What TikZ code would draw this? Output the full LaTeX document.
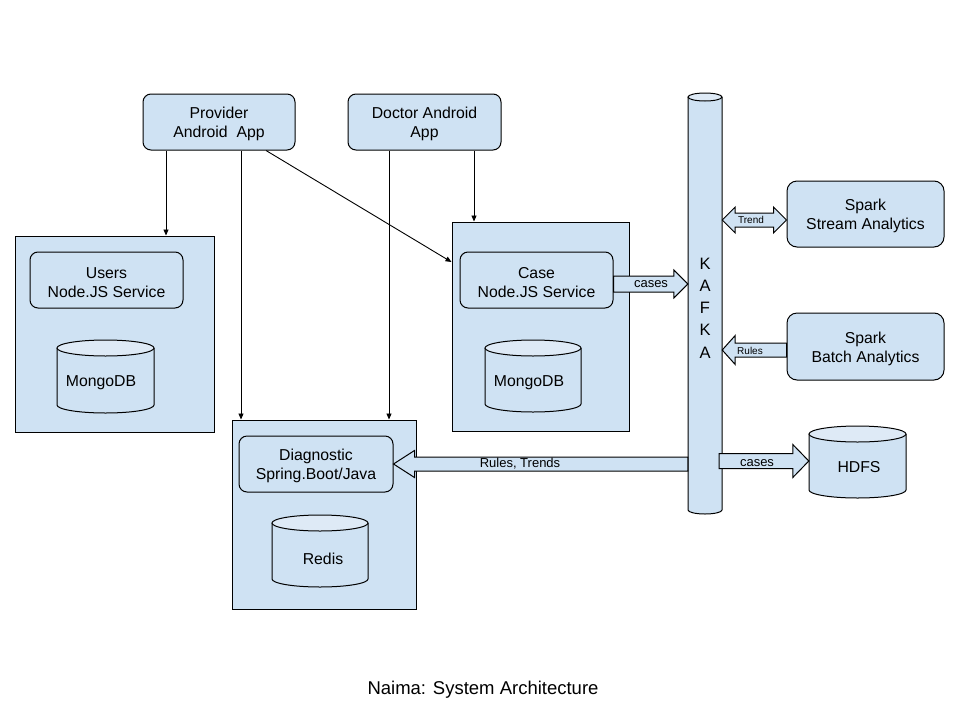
\documentclass[tikz,border=0pt]{standalone}
\usepackage{fontspec}
\setmainfont{Liberation Sans}
\usetikzlibrary{arrows.meta,calc}
\definecolor{boxfill}{HTML}{CFE2F3}
\definecolor{topfill}{HTML}{DEEAF6}
\newcommand\mainsize{\fontsize{15.8}{19}\selectfont}
\newcommand\topstrut{\rule{0pt}{16pt}}
\newcommand\cylshape[6]{% #1 name, #2 x1, #3 x2, #4 top extreme, #5 bottom extreme, #6 ry
  \fill[boxfill] (#2,{#4+#6}) -- (#2,{#5-#6}) arc[start angle=180,end angle=0,x radius={(#3-#2)/2},y radius=#6] -- (#3,{#4+#6}) -- cycle;
  \draw[line width=1pt] (#2,{#4+#6}) -- (#2,{#5-#6}) arc[start angle=180,end angle=0,x radius={(#3-#2)/2},y radius=#6] -- (#3,{#4+#6});
  \draw[line width=1pt,fill=topfill] ({(#2+#3)/2},{#4+#6}) ellipse[x radius={(#3-#2)/2},y radius=#6];
  \node[inner sep=0pt,minimum width={(#3-#2)*1pt},minimum height={(#5-#4)*1pt}] (#1) at ({(#2+#3)/2},{(#4+#5)/2}) {};
}
% right-pointing block arrow: #1 tail, #2 tip, #3 shaft half, #4 head half, #5 head length
\newcommand\blkR[5]{%
  \draw[blk] let \p1=#1, \p2=#2 in (\x1,{\y2+#3pt}) -- ({\x2-#5pt},{\y2+#3pt}) -- ({\x2-#5pt},{\y2+#4pt}) -- (\x2,\y2) -- ({\x2-#5pt},{\y2-#4pt}) -- ({\x2-#5pt},{\y2-#3pt}) -- (\x1,{\y2-#3pt}) -- cycle;}
% left-pointing block arrow: #1 tail (right), #2 tip (left)
\newcommand\blkL[5]{%
  \draw[blk] let \p1=#1, \p2=#2 in (\x1,{\y2+#3pt}) -- ({\x2+#5pt},{\y2+#3pt}) -- ({\x2+#5pt},{\y2+#4pt}) -- (\x2,\y2) -- ({\x2+#5pt},{\y2-#4pt}) -- ({\x2+#5pt},{\y2-#3pt}) -- (\x1,{\y2-#3pt}) -- cycle;}
% double block arrow: #1 left tip, #2 right tip
\newcommand\blkLR[5]{%
  \draw[blk] let \p1=#1, \p2=#2 in (\x1,\y1) -- ({\x1+#5pt},{\y1+#4pt}) -- ({\x1+#5pt},{\y1+#3pt}) -- ({\x2-#5pt},{\y1+#3pt}) -- ({\x2-#5pt},{\y1+#4pt}) -- (\x2,\y1) -- ({\x2-#5pt},{\y1-#4pt}) -- ({\x2-#5pt},{\y1-#3pt}) -- ({\x1+#5pt},{\y1-#3pt}) -- ({\x1+#5pt},{\y1-#4pt}) -- cycle;}
\tikzset{
  rbox/.style={draw,line width=1pt,fill=boxfill,rounded corners=8pt,align=center,font=\mainsize,inner sep=0pt},
  sbox/.style={draw,line width=1pt,fill=boxfill,align=center,inner sep=0pt},
  blk/.style={draw,line width=1pt,fill=boxfill,line join=miter},
  thinarrow/.style={draw,line width=0.9pt,-{Triangle[length=6pt,width=5pt]}},
  txt/.style={font=\mainsize,align=center,inner sep=0pt},
  small/.style={font=\fontsize{10}{12}\selectfont,inner sep=0pt},
  mid/.style={font=\fontsize{13}{15}\selectfont,inner sep=0pt}
}
\begin{document}
\begin{tikzpicture}[x=1pt,y=-1pt]
\useasboundingbox (0,0) rectangle (960,720);
% outer boxes
\node[sbox,minimum width=199pt,minimum height=196pt] (usersbox) at (114.5,334) {};
\node[sbox,minimum width=177pt,minimum height=209pt] (casebox) at (540.5,326.5) {};
\node[sbox,minimum width=184pt,minimum height=189pt] (diagbox) at (324,514.5) {};
% top apps
\node[rbox,minimum width=152pt,minimum height=56pt] (prov) at (219,122) {\topstrut Provider\\Android\ \ App};
\node[rbox,minimum width=153pt,minimum height=56pt] (doc) at (424.5,122) {\topstrut Doctor Android\\App};
% services
\node[rbox,minimum width=153pt,minimum height=56pt] (usersvc) at (106.5,280) {\topstrut Users\\Node.JS Service};
\node[rbox,minimum width=153pt,minimum height=56pt] (casesvc) at (536.5,280) {\topstrut Case\\Node.JS Service};
\node[rbox,minimum width=154pt,minimum height=56pt] (diagsvc) at (316,464) {\topstrut Diagnostic\\Spring.Boot/Java};
\node[rbox,rounded corners=10pt,minimum width=157pt,minimum height=66pt] (stream) at (865.5,214) {\topstrut Spark\\Stream Analytics};
\node[rbox,rounded corners=10pt,minimum width=157pt,minimum height=67pt] (batch) at (865.5,346.5) {\topstrut Spark\\Batch Analytics};
% cylinders
\cylshape{mongoa}{57}{154}{340}{413}{8}
\node[txt] (mongoatext) at (101,382.5) {MongoDB};
\cylshape{mongob}{485}{581}{340}{412}{8}
\node[txt] (mongobtext) at (529,382.5) {MongoDB};
\cylshape{redis}{272}{368}{515}{587}{8}
\node[txt] (redistext) at (323,558.5) {Redis};
\cylshape{hdfs}{809}{906}{426}{498}{8}
\node[txt] (hdfstext) at (859,467) {HDFS};
\cylshape{kafka}{688}{722}{93}{514}{4}
\node[font=\fontsize{16.5}{22.3}\selectfont,align=center,inner sep=0pt] (kafkatext) at (705,308) {K\\A\\F\\K\\A};
% thin arrows
\draw[thinarrow] (prov.south -| 166,0) -- (usersbox.north -| 166,0);
\draw[thinarrow] (prov.south -| 241,0) -- (diagbox.north -| 241,0);
\draw[thinarrow] (prov.south -| 266,0) -- (casebox.west |- 0,262);
\draw[thinarrow] (doc.south -| 389,0) -- (diagbox.north -| 389,0);
\draw[thinarrow] (doc.south -| 474,0) -- (casebox.north -| 474,0);
% block arrows
\blkR{(casesvc.east |- 0,284)}{(kafka.west |- 0,284)}{8}{14}{14}
\node[mid] (lcases) at (651,284) {cases};
\blkLR{(kafka.east |- 0,220)}{(stream.west |- 0,220)}{7}{13}{13}
\node[small] (ltrend) at (751,220) {Trend};
\blkL{(batch.west |- 0,350)}{(kafka.east |- 0,350)}{7}{14.5}{13}
\node[small] (lrules) at (750,351) {Rules};
\blkR{($(kafka.east |- 0,461)+(-3,0)$)}{(hdfs.west |- 0,461)}{7.5}{16.5}{16}
\node[mid] (lcases2) at (757,463) {cases};
\blkL{(kafka.west |- 0,464)}{(diagsvc.east |- 0,464)}{7}{13.5}{21}
\node[mid] (lrt) at (520,464) {Rules, Trends};
% title
\node[font=\fontsize{18.5}{22}\selectfont,inner sep=0pt] (title) at (483,689.5) {Naima: System Architecture};
\end{tikzpicture}
\end{document}
